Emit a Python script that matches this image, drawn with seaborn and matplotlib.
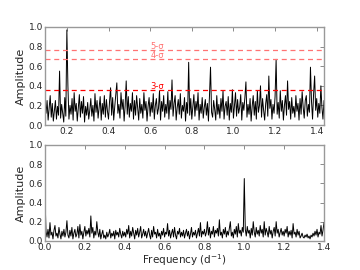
import numpy as np
import pandas as pd
import seaborn as sns
import matplotlib
matplotlib.use("Agg")
import matplotlib.pyplot as plt

# --- Data ---
# top panel: amplitude spectrum, 0.100 .. 1.435 d^-1 every 0.005
top_freq_range = (0.100, 1.435)
top_amp = [
    0.12, 0.25, 0.05, 0.18, 0.30, 0.08, 0.22, 0.04, 0.15, 0.25, 0.06, 0.19, 0.10, 0.55, 0.07, 0.21, 0.12, 0.03, 0.28, 0.09,
    0.97, 0.40, 0.06, 0.20, 0.11, 0.27, 0.05, 0.33, 0.14, 0.22, 0.04, 0.17, 0.31, 0.08, 0.24, 0.12, 0.29, 0.03, 0.19, 0.10,
    0.23, 0.06, 0.15, 0.27, 0.09, 0.20, 0.04, 0.32, 0.13, 0.25, 0.07, 0.18, 0.29, 0.05, 0.22, 0.11, 0.30, 0.08, 0.26, 0.14,
    0.06, 0.24, 0.38, 0.10, 0.28, 0.05, 0.19, 0.31, 0.43, 0.12, 0.21, 0.07, 0.33, 0.16, 0.26, 0.04, 0.20, 0.45, 0.11, 0.29,
    0.08, 0.22, 0.14, 0.33, 0.06, 0.25, 0.10, 0.30, 0.18, 0.05, 0.27, 0.12, 0.21, 0.07, 0.33, 0.15, 0.24, 0.04, 0.19, 0.28,
    0.09, 0.23, 0.13, 0.32, 0.06, 0.20, 0.27, 0.11, 0.17, 0.35, 0.05, 0.24, 0.14, 0.30, 0.08, 0.21, 0.12, 0.34, 0.06, 0.25,
    0.16, 0.46, 0.09, 0.22, 0.30, 0.05, 0.18, 0.26, 0.11, 0.32, 0.07, 0.20, 0.14, 0.28, 0.04, 0.23, 0.12, 0.64, 0.10, 0.27,
    0.06, 0.19, 0.31, 0.09, 0.24, 0.15, 0.33, 0.05, 0.21, 0.12, 0.28, 0.07, 0.18, 0.26, 0.10, 0.22, 0.04, 0.30, 0.59, 0.13,
    0.08, 0.25, 0.16, 0.05, 0.30, 0.11, 0.21, 0.07, 0.27, 0.14, 0.35, 0.06, 0.19, 0.24, 0.10, 0.29, 0.05, 0.22, 0.13, 0.36,
    0.07, 0.20, 0.33, 0.09, 0.26, 0.12, 0.18, 0.31, 0.05, 0.23, 0.15, 0.28, 0.44, 0.08, 0.21, 0.11, 0.27, 0.04, 0.19, 0.30,
    0.10, 0.24, 0.06, 0.35, 0.13, 0.20, 0.40, 0.08, 0.27, 0.15, 0.05, 0.22, 0.31, 0.09, 0.50, 0.17, 0.26, 0.06, 0.21, 0.12,
    0.29, 0.67, 0.11, 0.23, 0.07, 0.35, 0.14, 0.25, 0.05, 0.20, 0.30, 0.10, 0.45, 0.16, 0.24, 0.06, 0.28, 0.12, 0.19, 0.08,
    0.30, 0.14, 0.22, 0.05, 0.27, 0.11, 0.34, 0.18, 0.07, 0.25, 0.30, 0.09, 0.21, 0.13, 0.59, 0.24, 0.06, 0.32, 0.50, 0.15,
    0.27, 0.08, 0.22, 0.12, 0.40, 0.18, 0.06, 0.25,
]

# bottom panel: amplitude spectrum, 0.000 .. 1.400 d^-1 every 0.005
bottom_freq_range = (0.0, 1.4)
bottom_amp = [
    0.46, 0.10, 0.04, 0.12, 0.03, 0.19, 0.06, 0.09, 0.02, 0.11, 0.16, 0.05, 0.08, 0.03, 0.14, 0.07, 0.02, 0.10, 0.05, 0.12,
    0.04, 0.09, 0.21, 0.06, 0.03, 0.11, 0.05, 0.14, 0.02, 0.08, 0.12, 0.04, 0.07, 0.15, 0.03, 0.17, 0.06, 0.10, 0.02, 0.09,
    0.15, 0.05, 0.11, 0.07, 0.13, 0.04, 0.26, 0.08, 0.14, 0.03, 0.10, 0.06, 0.20, 0.09, 0.04, 0.12, 0.02, 0.07, 0.11, 0.03,
    0.06, 0.02, 0.09, 0.04, 0.07, 0.12, 0.03, 0.08, 0.05, 0.10, 0.02, 0.11, 0.06, 0.09, 0.04, 0.13, 0.07, 0.03, 0.10, 0.05,
    0.09, 0.04, 0.12, 0.07, 0.16, 0.03, 0.10, 0.05, 0.14, 0.08, 0.02, 0.11, 0.06, 0.13, 0.04, 0.09, 0.15, 0.03, 0.07, 0.12,
    0.05, 0.10, 0.03, 0.08, 0.13, 0.06, 0.02, 0.11, 0.04, 0.15, 0.07, 0.09, 0.03, 0.12, 0.05, 0.08, 0.02, 0.10, 0.06, 0.13,
    0.04, 0.09, 0.07, 0.18, 0.05, 0.11, 0.03, 0.08, 0.12, 0.04, 0.14, 0.06, 0.02, 0.10, 0.07, 0.13, 0.04, 0.09, 0.05, 0.11,
    0.03, 0.08, 0.12, 0.05, 0.10, 0.02, 0.07, 0.14, 0.04, 0.09, 0.06, 0.11, 0.03, 0.08, 0.13, 0.05, 0.19, 0.04, 0.10, 0.07,
    0.12, 0.05, 0.09, 0.20, 0.06, 0.14, 0.03, 0.10, 0.07, 0.15, 0.04, 0.11, 0.08, 0.13, 0.05, 0.22, 0.06, 0.09, 0.03, 0.12,
    0.07, 0.14, 0.04, 0.10, 0.06, 0.13, 0.20, 0.05, 0.09, 0.03, 0.12, 0.07, 0.15, 0.04, 0.18, 0.08, 0.11, 0.05, 0.14, 0.09,
    0.65, 0.12, 0.05, 0.15, 0.08, 0.11, 0.03, 0.13, 0.06, 0.20, 0.09, 0.04, 0.14, 0.07, 0.11, 0.05, 0.16, 0.08, 0.12, 0.04,
    0.20, 0.06, 0.13, 0.09, 0.04, 0.15, 0.07, 0.11, 0.03, 0.10, 0.14, 0.05, 0.20, 0.08, 0.12, 0.04, 0.09, 0.13, 0.06, 0.10,
    0.05, 0.12, 0.08, 0.15, 0.04, 0.10, 0.06, 0.11, 0.03, 0.18, 0.07, 0.09, 0.04, 0.12, 0.06, 0.10, 0.03, 0.05, 0.08, 0.04,
    0.03, 0.06, 0.04, 0.07, 0.03, 0.05, 0.02, 0.06, 0.04, 0.08, 0.05, 0.10, 0.06, 0.12, 0.04, 0.09, 0.07, 0.16, 0.05, 0.11,
    0.19,
]

# significance levels drawn on the top panel
sigma_labels = ["5-σ", "4-σ", "3-σ"]
sigma_levels = [0.765, 0.67, 0.355]
sigma_colors = ["#ff7373", "#ff7373", "#ff0000"]

top_xticks = [0.2, 0.4, 0.6, 0.8, 1.0, 1.2, 1.4]
bottom_xticks = [0.0, 0.2, 0.4, 0.6, 0.8, 1.0, 1.2, 1.4]
yticks = [0.0, 0.2, 0.4, 0.6, 0.8, 1.0]


def style_axis(ax):
    """Old-school matplotlib look: grey frame, inward ticks on all sides."""
    for sp in ax.spines.values():
        sp.set_visible(True)
        sp.set_color("#999999")
        sp.set_linewidth(1.0)
    ax.tick_params(direction="in", top=True, right=True, length=3,
                   width=0.6, color="#777777", labelsize=6.5, pad=1.5)
    ax.set_yticks(yticks)
    ax.set_yticklabels([f"{t:.1f}" for t in yticks])
    ax.set_ylim(0, 1.0)


def main():
    sns.set_style("white")
    plt.rcParams["font.family"] = ["DejaVu Sans"]

    top = pd.DataFrame({
        "freq": np.linspace(top_freq_range[0], top_freq_range[1], len(top_amp)),
        "amp": top_amp,
    })
    bottom = pd.DataFrame({
        "freq": np.linspace(bottom_freq_range[0], bottom_freq_range[1], len(bottom_amp)),
        "amp": bottom_amp,
    })

    fig = plt.figure(figsize=(3.6, 2.7), dpi=100)
    ax1 = fig.add_axes([0.125, 0.537, 0.775, 0.363])
    ax2 = fig.add_axes([0.125, 0.108, 0.775, 0.355])

    # --- top panel ---
    sns.lineplot(data=top, x="freq", y="amp", ax=ax1, color="black",
                 linewidth=0.7, estimator=None)
    for lab, lev, c in zip(sigma_labels, sigma_levels, sigma_colors):
        ax1.axhline(lev, color=c, linestyle="--", linewidth=0.9,
                    dashes=(4, 3))
        ax1.text(0.6, lev - 0.005, lab, color=c, fontsize=6,
                 va="bottom", ha="left", rotation=0)
    style_axis(ax1)
    ax1.set_xlim(0.095, 1.435)
    ax1.set_xticks(top_xticks)
    ax1.set_xticklabels([f"{t:.1f}" for t in top_xticks])
    ax1.set_xlabel("")
    ax1.set_ylabel("Amplitude", fontsize=8, labelpad=2)

    # --- bottom panel ---
    sns.lineplot(data=bottom, x="freq", y="amp", ax=ax2, color="black",
                 linewidth=0.7, estimator=None)
    style_axis(ax2)
    ax2.set_xlim(0.0, 1.4)
    ax2.set_xticks(bottom_xticks)
    ax2.set_xticklabels([f"{t:.1f}" for t in bottom_xticks])
    ax2.set_xlabel("Frequency (d$^{-1}$)", fontsize=7.5, labelpad=0.5)
    ax2.set_ylabel("Amplitude", fontsize=8, labelpad=2)

    fig.savefig("out.png", dpi=100)
    plt.close(fig)


if __name__ == "__main__":
    main()
